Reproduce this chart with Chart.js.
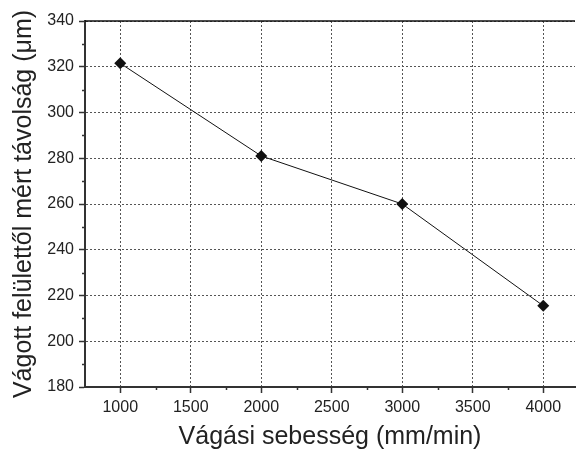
<!DOCTYPE html>
<html>
<head>
<meta charset="utf-8">
<script src="https://cdn.jsdelivr.net/npm/chart.js@4"></script>
<style>
  html, body { margin: 0; padding: 0; background: #fff; overflow: hidden; }
  #wrap { width: 581px; height: 452px; }
</style>
</head>
<body>
<div id="wrap"><canvas id="chart"></canvas></div>
<script>
const speeds = [1000, 2000, 3000, 4000];
const distances = [321.5, 281, 260, 215.5];
const xTicks = [1000, 1500, 2000, 2500, 3000, 3500, 4000];
const xMinorTicks = [1250, 1750, 2250, 2750, 3250, 3750];
const yTicks = [180, 200, 220, 240, 260, 280, 300, 320, 340];
const yMinorTicks = [190, 210, 230, 250, 270, 290, 310, 330];

const axisColor = '#333';
const textColor = '#222';
const fontFamily = '"Liberation Sans", Arial, sans-serif';

// minor tick marks and the top frame line
const frame = {
    id: 'frame',
    afterDraw(chart) {
        const { ctx, chartArea, scales } = chart;
        ctx.save();
        ctx.strokeStyle = axisColor;
        ctx.lineWidth = 1.5;
        ctx.beginPath();
        xMinorTicks.forEach(v => {
            const x = Math.round(scales.x.getPixelForValue(v)) + 0.5;
            ctx.moveTo(x, chartArea.bottom);
            ctx.lineTo(x, chartArea.bottom + 3);
        });
        yMinorTicks.forEach(v => {
            const y = Math.round(scales.y.getPixelForValue(v)) + 0.5;
            ctx.moveTo(chartArea.left, y);
            ctx.lineTo(chartArea.left - 3, y);
        });
        ctx.stroke();
        ctx.strokeStyle = '#111';
        ctx.beginPath();
        ctx.moveTo(chartArea.left, chartArea.top);
        ctx.lineTo(chartArea.right, chartArea.top);
        ctx.stroke();
        ctx.restore();
    }
};

new Chart(document.getElementById('chart'), {
    type: 'line',
    data: {
        datasets: [{
            data: speeds.map((s, i) => ({ x: s, y: distances[i] })),
            borderColor: '#111',
            borderWidth: 1,
            backgroundColor: '#111',
            pointStyle: 'rectRot',
            pointRadius: 6,
            pointBorderWidth: 0,
            tension: 0
        }]
    },
    options: {
        responsive: true,
        maintainAspectRatio: false,
        animation: false,
        layout: { padding: { top: 21, right: 0, left: 0, bottom: 0 } },
        plugins: { legend: { display: false }, tooltip: { enabled: false } },
        scales: {
            x: {
                type: 'linear',
                min: 750,
                max: 4225,
                afterBuildTicks: s => { s.ticks = xTicks.map(v => ({ value: v })); },
                afterFit: s => { s.height = 65; },
                grid: {
                    color: '#555',
                    lineWidth: 1,
                    tickColor: axisColor,
                    tickLength: 6,
                    tickWidth: 1.5
                },
                border: { color: axisColor, width: 2, dash: [2, 2] },
                ticks: {
                    color: textColor,
                    padding: 5,
                    font: { family: fontFamily, size: 16 },
                    maxRotation: 0,
                    callback: v => String(v)
                },
                title: {
                    display: true,
                    text: 'Vágási sebesség (mm/min)',
                    color: textColor,
                    font: { family: fontFamily, size: 25 },
                    padding: { top: 4, bottom: 0 }
                }
            },
            y: {
                min: 180,
                max: 340,
                afterBuildTicks: s => { s.ticks = yTicks.map(v => ({ value: v })); },
                afterFit: s => { s.width = 85; },
                grid: {
                    color: '#555',
                    lineWidth: 1,
                    tickColor: axisColor,
                    tickLength: 6,
                    tickWidth: 1.5
                },
                border: { color: axisColor, width: 2, dash: [2, 2] },
                ticks: {
                    color: textColor,
                    padding: 5,
                    font: { family: fontFamily, size: 16 },
                    callback: v => String(v)
                },
                title: {
                    display: true,
                    text: 'Vágott felülettől mért távolság (μm)',
                    color: textColor,
                    font: { family: fontFamily, size: 25 },
                    padding: { top: 9, bottom: 4 }
                }
            }
        }
    },
    plugins: [frame]
});
</script>
</body>
</html>
